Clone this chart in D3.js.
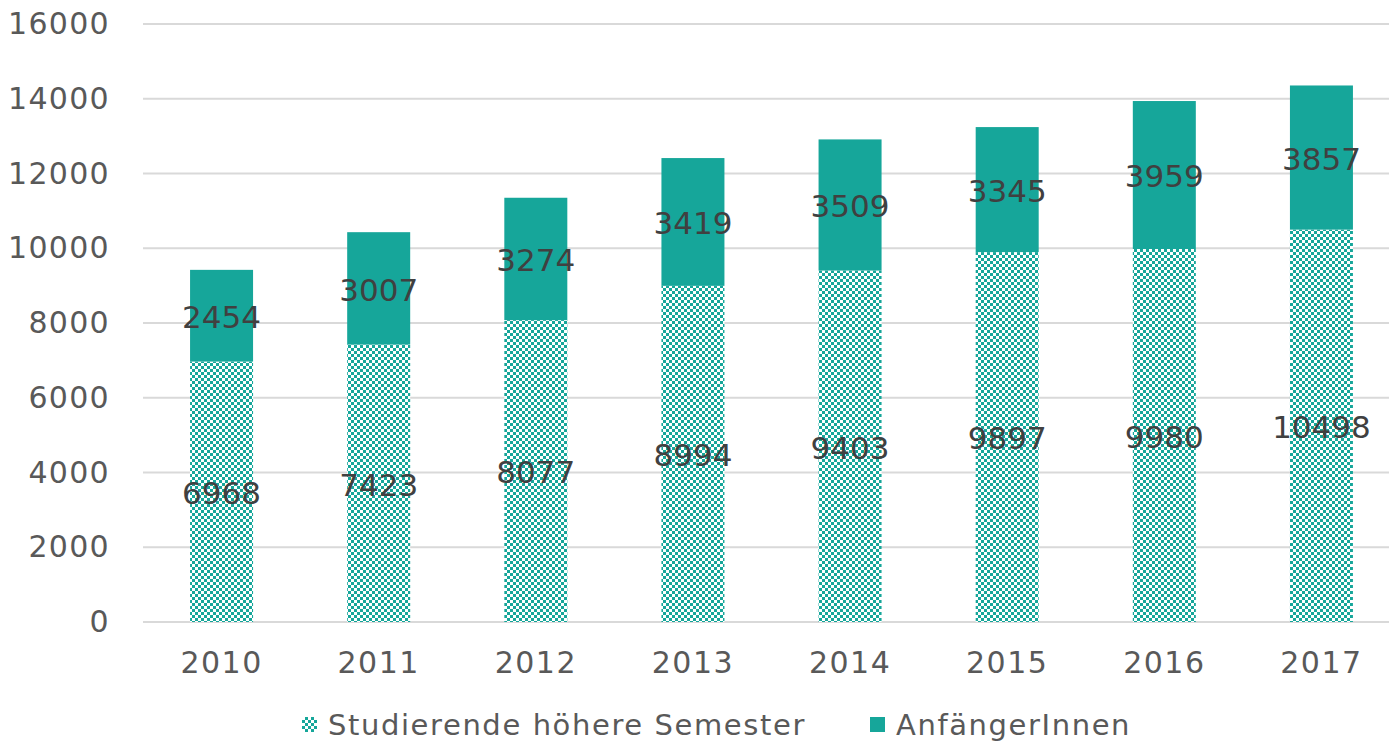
<!DOCTYPE html>
<html>
<head>
<meta charset="utf-8">
<script src="https://cdn.jsdelivr.net/npm/d3@7"></script>
<style>
  body { margin: 0; background: #fff; }
  text { font-family: "DejaVu Sans", sans-serif; }
</style>
</head>
<body>
<svg id="chart" width="1389" height="745"></svg>
<script>
// years on the x axis
var years = ["2010", "2011", "2012", "2013", "2014", "2015", "2016", "2017"];
// continuing students (bottom, patterned)
var hoehere = [6968, 7423, 8077, 8994, 9403, 9897, 9980, 10498];
// first-year students (top, solid)
var anfaenger = [2454, 3007, 3274, 3419, 3509, 3345, 3959, 3857];
var yTicks = [0, 2000, 4000, 6000, 8000, 10000, 12000, 14000, 16000];
var seriesNames = ["Studierende höhere Semester", "AnfängerInnen"];

var teal = "#16a69a";
var svg = d3.select("#chart");

// checker pattern for the lower segment
var defs = svg.append("defs");
var pat = defs.append("pattern")
    .attr("id", "checker")
    .attr("width", 6).attr("height", 6)
    .attr("patternUnits", "userSpaceOnUse");
pat.append("rect").attr("width", 6).attr("height", 6).attr("fill", teal);
pat.append("rect").attr("x", 0).attr("y", 0).attr("width", 3).attr("height", 3).attr("fill", "#fff");
pat.append("rect").attr("x", 3).attr("y", 3).attr("width", 3).attr("height", 3).attr("fill", "#fff");

var x = d3.scaleBand().domain(years).range([143, 1400]).paddingInner(0.6).paddingOuter(0.3);
var y = d3.scaleLinear().domain([0, 16000]).range([622, 24]);

// gridlines
svg.append("g").selectAll("line")
    .data(yTicks)
    .enter().append("line")
    .attr("x1", 143).attr("x2", 1389)
    .attr("y1", function(d) { return y(d); })
    .attr("y2", function(d) { return y(d); })
    .attr("stroke", "#d9d9d9")
    .attr("stroke-width", 2);

// y axis labels
var yAxis = d3.axisLeft(y).tickValues(yTicks).tickFormat(d3.format("d")).tickSize(0).tickPadding(0);
var yg = svg.append("g").attr("transform", "translate(110,0)").call(yAxis);
yg.select(".domain").remove();
yg.selectAll("text").attr("font-size", 30).attr("fill", "#595959")
    .attr("letter-spacing", 1.3)
    .attr("font-family", "'DejaVu Sans', sans-serif");

// x axis labels
var xAxis = d3.axisBottom(x).tickSize(0).tickPadding(0);
var xg = svg.append("g").attr("transform", "translate(0,652)").call(xAxis);
xg.select(".domain").remove();
xg.selectAll("text").attr("font-size", 30).attr("fill", "#595959")
    .attr("letter-spacing", 1.5)
    .attr("font-family", "'DejaVu Sans', sans-serif");

// bars
var bw = 63;
var g = svg.append("g").selectAll("g")
    .data(years)
    .enter().append("g");

g.append("rect")
    .attr("x", function(d) { return x(d) + x.bandwidth() / 2 - bw / 2; })
    .attr("width", bw)
    .attr("y", function(d, i) { return y(hoehere[i]); })
    .attr("height", function(d, i) { return y(0) - y(hoehere[i]); })
    .attr("fill", "url(#checker)");

g.append("rect")
    .attr("x", function(d) { return x(d) + x.bandwidth() / 2 - bw / 2; })
    .attr("width", bw)
    .attr("y", function(d, i) { return y(hoehere[i] + anfaenger[i]); })
    .attr("height", function(d, i) { return y(hoehere[i]) - y(hoehere[i] + anfaenger[i]); })
    .attr("fill", teal);

// data labels
g.append("text")
    .attr("x", function(d) { return x(d) + x.bandwidth() / 2; })
    .attr("y", function(d, i) { return y(hoehere[i] / 2); })
    .attr("dy", "0.4em")
    .attr("text-anchor", "middle")
    .attr("font-size", 31)
    .attr("fill", "#404040")
    .text(function(d, i) { return hoehere[i]; });

g.append("text")
    .attr("x", function(d) { return x(d) + x.bandwidth() / 2; })
    .attr("y", function(d, i) { return y(hoehere[i] + anfaenger[i] / 2); })
    .attr("dy", "0.4em")
    .attr("text-anchor", "middle")
    .attr("font-size", 31)
    .attr("fill", "#404040")
    .text(function(d, i) { return anfaenger[i]; });

// legend
var legX = [302, 870];
var leg = svg.append("g").selectAll("g")
    .data(seriesNames)
    .enter().append("g")
    .attr("transform", function(d, i) { return "translate(" + legX[i] + ",717)"; });
leg.append("rect")
    .attr("width", 15).attr("height", 15)
    .attr("fill", function(d, i) { return i == 0 ? "url(#checker)" : teal; });
leg.append("text")
    .attr("x", 26).attr("y", 8).attr("dy", "0.35em")
    .attr("font-size", 29).attr("fill", "#595959")
    .attr("letter-spacing", 1.6)
    .text(function(d) { return d; });
</script>
</body>
</html>
